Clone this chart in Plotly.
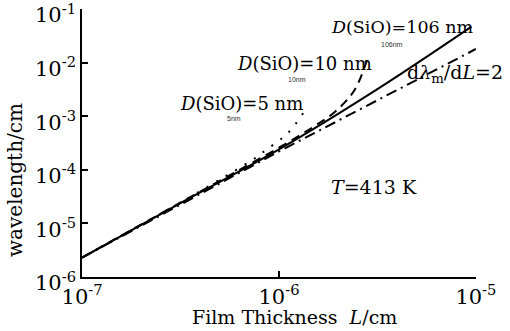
import plotly.graph_objects as go

# Film thickness L (cm) and wavelength (cm)
L_106 = [1e-7, 3.16e-7, 1e-6, 3.16e-6, 9.5e-6]
lam_106 = [2.3e-6, 2.4e-5, 2.4e-4, 3.2e-3, 4.7e-2]

L_slope2 = [1e-7, 1e-6, 1e-5]
lam_slope2 = [2.3e-6, 2.2e-4, 1.8e-2]

L_10 = [1e-7, 3.16e-7, 1e-6, 1.5e-6, 1.92e-6, 2.42e-6, 2.82e-6]
lam_10 = [2.3e-6, 2.45e-5, 2.6e-4, 6.4e-4, 1.2e-3, 3.1e-3, 1.23e-2]

L_5 = [1e-7, 3.16e-7, 7.7e-7, 8.7e-7, 1.01e-6, 1.16e-6, 1.4e-6]
lam_5 = [2.3e-6, 2.45e-5, 1.73e-4, 2.44e-4, 3.6e-4, 5.8e-4, 1.55e-3]

x_tickvals = [1e-7, 1e-6, 1e-5]
x_ticktext = ["10<sup>-7</sup>", "10<sup>-6</sup>", "10<sup>-5</sup>"]
y_tickvals = [1e-6, 1e-5, 1e-4, 1e-3, 1e-2, 1e-1]
y_ticktext = ["10<sup>-6</sup>", "10<sup>-5</sup>", "10<sup>-4</sup>",
              "10<sup>-3</sup>", "10<sup>-2</sup>", "10<sup>-1</sup>"]

FONT = "DejaVu Serif"

fig = go.Figure()
fig.add_trace(go.Scatter(x=L_106, y=lam_106, mode="lines", line=dict(color="black", width=2), line_shape="spline"))
fig.add_trace(go.Scatter(x=L_slope2, y=lam_slope2, mode="lines",
                         line=dict(color="black", width=2, dash="11px,5px,2px,5px")))
fig.add_trace(go.Scatter(x=L_10, y=lam_10, mode="lines", line=dict(color="black", width=2, dash="9px,6px"),
                         line_shape="spline"))
fig.add_trace(go.Scatter(x=L_5, y=lam_5, mode="lines", line=dict(color="black", width=2, dash="2px,9px"),
                         line_shape="spline"))

ann = []
def add(text, x, y, size, color="black", family=FONT, xanchor="center"):
    ann.append(dict(text=text, x=x, y=y, xref="paper", yref="paper", showarrow=False,
                    font=dict(family=family, size=size, color=color), xanchor=xanchor, yanchor="middle"))

W, H = 510, 331
ml, mr, mt, mb = 82, 34, 9, 54
pw, ph = W - ml - mr, H - mt - mb
def px(xp): return (xp - ml) / pw
def py(yp): return (H - mb - yp) / ph

add("<i>D</i>(SiO)=106 nm", px(402), py(27), 17.5)
add("106nm", px(392), py(44), 7, color="#333", family="Liberation Sans")
add("<i>D</i>(SiO)=10 nm", px(304), py(64), 18)
add("10nm", px(297), py(79), 7, color="#333", family="Liberation Sans")
add("<i>D</i>(SiO)=5 nm", px(241), py(103), 18)
add("5nm", px(234), py(119), 7, color="#333", family="Liberation Sans")
add("d<i>λ</i><sub>m</sub>/d<i>L</i>=2", px(455), py(73), 19)
add("<i>T</i>=413 K", px(374), py(187), 19)
add("Film Thickness\u00a0\u00a0<i>L</i>/cm", px(294), py(317), 19)
ann.append(dict(text="wavelength/cm", x=px(15), y=py(180), xref="paper", yref="paper", showarrow=False,
                textangle=-90, font=dict(family=FONT, size=20, color="black"),
                xanchor="center", yanchor="middle"))

fig.update_layout(
    width=W, height=H, margin=dict(l=ml, r=mr, t=mt, b=mb, autoexpand=False),
    paper_bgcolor="white", plot_bgcolor="white", showlegend=False,
    annotations=ann,
    font=dict(family=FONT, color="black"),
)
common = dict(showgrid=False, zeroline=False, showline=True, linecolor="black", linewidth=1.5,
              mirror=False, ticks="inside", ticklen=6, tickwidth=1.5, tickcolor="black",
              automargin=False, ticklabeloverflow="allow", tickfont=dict(family=FONT, size=21))
fig.update_xaxes(type="log", range=[-7.0005, -4.9995], tickvals=x_tickvals, ticktext=x_ticktext, **common)
fig.update_yaxes(type="log", range=[-6.0005, -0.998], tickvals=y_tickvals, ticktext=y_ticktext,
                 ticklabelshift=6, **common)

fig.write_html("out.html", config={"displayModeBar": False},
               post_script="document.body.style.margin='0';document.body.style.overflow='hidden';")
